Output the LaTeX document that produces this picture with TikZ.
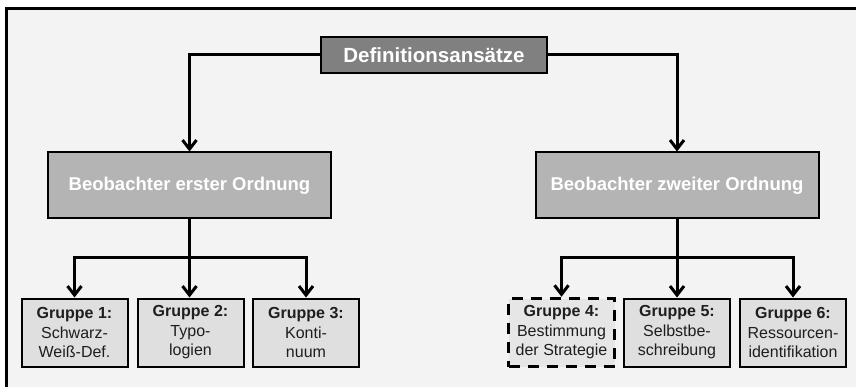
\documentclass[tikz,border=0pt]{standalone}
\usepackage{fontspec}
\setmainfont{Liberation Sans}
\usetikzlibrary{arrows.meta}

\definecolor{panelbg}{HTML}{F3F3F3}
\definecolor{topfill}{HTML}{808080}
\definecolor{midfill}{HTML}{B4B4B4}
\definecolor{groupfill}{HTML}{DFDFDF}
\definecolor{groupfillalt}{HTML}{E6E6E6}
\definecolor{ink}{HTML}{1E1E1E}

\tikzset{
  rootbox/.style={draw=black, line width=2pt, fill=topfill, text=white,
    minimum width=226pt, minimum height=36pt, inner sep=0pt,
    font=\bfseries\fontsize{20.5}{24}\selectfont},
  observerbox/.style={draw=black, line width=2pt, fill=midfill, text=white,
    minimum width=283pt, minimum height=66pt, inner sep=0pt,
    font=\bfseries\fontsize{18.5}{22}\selectfont},
  groupbox/.style={draw=black, line width=2pt, fill=groupfill, text=ink,
    minimum width=106pt, minimum height=68pt, inner sep=0pt, align=center,
    font=\fontsize{16}{19.5}\selectfont},
  groupdashed/.style={groupbox, fill=groupfillalt, line width=3.5pt,
    dash pattern=on 11pt off 8pt},
  link/.style={draw=black, line width=3pt},
  linkarrow/.style={link, -{Straight Barb[length=9pt,width=14pt]}},
}

\begin{document}
\begin{tikzpicture}[x=1pt, y=-1pt]
  % page and panel
  \useasboundingbox (0,0) rectangle (856,387);
  \fill[white] (0,0) rectangle (856,387);
  \fill[panelbg] (6,9) rectangle (856,387);
  \draw[line width=3pt, black] (856,9) -- (6,9) -- (6,387);

  % nodes
  \node[rootbox] (def) at (434,55) {Definitionsansätze};

  \node[observerbox] (obs1) at (189.5,185.5) {Beobachter erster Ordnung};
  \node[observerbox] (obs2) at (677,185.5) {Beobachter zweiter Ordnung};

  \node[groupbox] (g1) at (74.5,332.5) {\textbf{Gruppe 1:}\\Schwarz-\\Weiß-Def.};
  \node[groupbox] (g2) at (190.5,332.5) {\textbf{Gruppe 2:}\\Typo-\\logien};
  \node[groupbox] (g3) at (306,332.5) {\textbf{Gruppe 3:}\\Konti-\\nuum};

  \node[groupdashed] (g4) at (561.5,332.5) {\textbf{Gruppe 4:}\\Bestimmung\\der Strategie};
  \node[groupbox] (g5) at (677,332.5) {\textbf{Gruppe 5:}\\Selbstbe-\\schreibung};
  \node[groupbox] (g6) at (793,332.5) {\textbf{Gruppe 6:}\\Ressourcen-\\identifikation};

  % branching points
  \coordinate (j1) at (189.5,258);
  \coordinate (j2) at (677,258);

  % connectors
  \draw[linkarrow] (def.west) -| (obs1.north);
  \draw[linkarrow] (def.east) -| (obs2.north);

  \draw[linkarrow] (obs1.south) -- (g2.north -| obs1.south);
  \draw[linkarrow] (j1) -| (g1.north);
  \draw[linkarrow] (j1) -| (g3.north);

  \draw[linkarrow] (obs2.south) -- (g5.north);
  \draw[linkarrow] (j2) -| (g4.north);
  \draw[linkarrow] (j2) -| (g6.north);
\end{tikzpicture}
\end{document}
